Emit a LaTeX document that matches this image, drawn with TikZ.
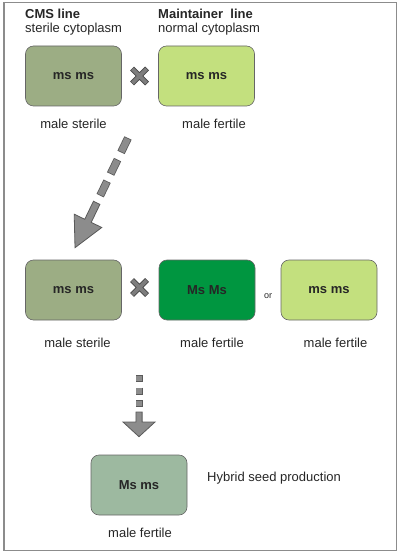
\documentclass[tikz,border=0pt]{standalone}
\usepackage{fontspec}
\setmainfont{Liberation Sans}
\usetikzlibrary{positioning, calc}
\definecolor{cmsgris}{RGB}{156,173,132}
\definecolor{mantverde}{RGB}{195,224,126}
\definecolor{msverde}{RGB}{0,150,64}
\definecolor{hibrido}{RGB}{157,185,160}
\definecolor{flechagris}{RGB}{140,140,140}
\definecolor{flechaborde}{RGB}{90,90,90}
\definecolor{cruzgris}{RGB}{125,125,125}
\definecolor{cruzborde}{RGB}{70,70,70}
\tikzset{
  caja/.style={rectangle, rounded corners=8pt, draw=black!60, line width=0.6pt,
    minimum width=96pt, minimum height=60pt, inner sep=0pt,
    font=\fontsize{13}{15}\selectfont\bfseries, text=black!85},
  etiq/.style={anchor=base, inner sep=0pt, font=\fontsize{13}{15}\selectfont, text=black!85},
  titulo/.style={etiq, anchor=base west, font=\fontsize{13}{15}\selectfont\bfseries},
  subtitulo/.style={etiq, anchor=base west},
  cuerpo/.style={draw=flechaborde, fill=flechagris, line width=0.8pt, line join=miter},
  cruz/.pic={
    \draw[line width=5.6pt, cruzborde] (-7.5,-7.5) -- (7.5,7.5) (-7.5,7.5) -- (7.5,-7.5);
    \draw[line width=3.8pt, cruzgris] (-7.1,-7.1) -- (7.1,7.1) (-7.1,7.1) -- (7.1,-7.1);
  }
}
\begin{document}
\begin{tikzpicture}[x=1pt, y=-1pt]
  \useasboundingbox (0,0) rectangle (400,553);
  \draw[black!45, line width=1.2pt] (4,2.5) rectangle (396.5,550.5);
  % parents
  \node[titulo] (cms) at (25,19) {CMS line};
  \node[subtitulo] (cmssub) at (25,33) {sterile cytoplasm};
  \node[titulo] (mant) at (158,19) {Maintainer~ line};
  \node[subtitulo] (mantsub) at (158,33) {normal cytoplasm};
  \node[caja, fill=cmsgris] (A) at (73.5,76) {ms ms};
  \node[caja, fill=mantverde] (B) at (206.5,76) {ms ms};
  \pic at (139.5,76) {cruz};
  \node[etiq] (Alab) at (73.5,128.5) {male sterile};
  \node[etiq] (Blab) at (214,128.5) {male fertile};
  % second cross
  \node[caja, fill=cmsgris] (C) at (73.5,290) {ms ms};
  \node[caja, fill=msverde] (D) at (207,290) {Ms Ms};
  \node[caja, fill=mantverde] (E) at (329,290) {ms ms};
  \pic at (139.5,287.5) {cruz};
  \node[etiq, font=\fontsize{9}{11}\selectfont] (o) at (268,298) {or};
  \node[etiq] (Clab) at (77.5,347) {male sterile};
  \node[etiq] (Dlab) at (212,347) {male fertile};
  \node[etiq] (Elab) at (335.5,347) {male fertile};
  % hybrid
  \node[caja, fill=hibrido] (F) at (139,485) {Ms ms};
  \node[etiq] (Flab) at (140,537) {male fertile};
  \node[etiq, anchor=base west] (hib) at (207,481) {Hybrid seed production};
  % diagonal arrow
  \coordinate (ini1) at (128,138);
  \coordinate (pun1) at ($(C.north)+(1.5,-12)$);
  \coordinate (d1) at ($(ini1)!72pt!(pun1)$);
  \coordinate (b1) at ($(ini1)!92pt!(pun1)$);
  \draw[flechaborde, line width=8pt, dash pattern=on 16pt off 8pt] (ini1) -- ($(ini1)!66pt!(pun1)$);
  \draw[flechagris, line width=6.4pt, dash pattern=on 14.4pt off 9.6pt, dash phase=23.2pt] (ini1) -- ($(ini1)!66pt!(pun1)$);
  \draw[cuerpo] ($(d1)!3.6pt!90:(pun1)$) -- ($(b1)!3.6pt!90:(pun1)$) -- ($(b1)!15.3pt!90:(pun1)$)
    -- (pun1) -- ($(b1)!15.3pt!-90:(pun1)$) -- ($(b1)!3.6pt!-90:(pun1)$) -- ($(d1)!3.6pt!-90:(pun1)$) -- cycle;
  % vertical arrow
  \coordinate (ini2) at (139,375);
  \coordinate (pun2) at ($(F.north)+(0,-18)$);
  \coordinate (d2) at ($(ini2)!37pt!(pun2)$);
  \coordinate (b2) at ($(ini2)!47pt!(pun2)$);
  \draw[flechaborde, line width=7pt, dash pattern=on 7pt off 5.5pt] (ini2) -- ($(ini2)!32pt!(pun2)$);
  \draw[flechagris, line width=5.4pt, dash pattern=on 5.4pt off 7.1pt, dash phase=11.7pt] (ini2) -- ($(ini2)!32pt!(pun2)$);
  \draw[cuerpo] ($(d2)!3.1pt!90:(pun2)$) -- ($(b2)!3.1pt!90:(pun2)$) -- ($(b2)!16pt!90:(pun2)$)
    -- (pun2) -- ($(b2)!16pt!-90:(pun2)$) -- ($(b2)!3.1pt!-90:(pun2)$) -- ($(d2)!3.1pt!-90:(pun2)$) -- cycle;
\end{tikzpicture}
\end{document}
